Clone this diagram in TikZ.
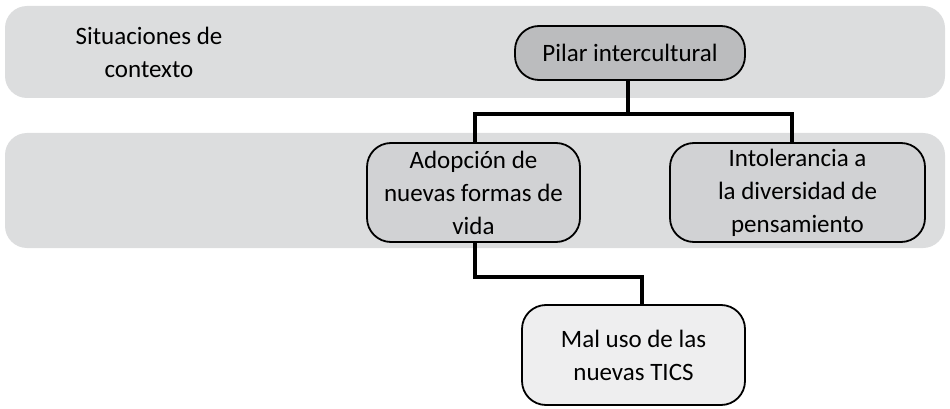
\documentclass[tikz,border=0pt]{standalone}
\usepackage{fontspec}
\setmainfont{Carlito}
\definecolor{bandgray}{HTML}{DCDDDE}
\definecolor{topfill}{HTML}{BBBCBE}
\definecolor{midfill}{HTML}{D1D2D4}
\definecolor{lowfill}{HTML}{EEEEEF}
\begin{document}
\begin{tikzpicture}[x=1pt,y=-1pt,
  band/.style={fill=bandgray,rounded corners=22pt},
  txt/.style={align=center,font=\fontsize{25}{33}\selectfont,inner sep=0pt},
  box/.style={txt,draw=black,line width=1.8pt,rounded corners=24pt},
  conn/.style={line width=4pt,line cap=rect}]
\useasboundingbox (0,0) rectangle (950,409);
\fill[band] (5,6) rectangle (945,98);
\fill[band] (5,133) rectangle (945,248);
\node[txt] (ctx) at (149,52) {Situaciones de\\contexto};
\node[box,fill=topfill,minimum width=230pt,minimum height=54pt] (pilar) at (630,53) {Pilar intercultural};
\node[box,fill=midfill,minimum width=213pt,minimum height=99pt] (adop) at (473.5,192.5) {Adopción de\\nuevas formas de\\vida};
\node[box,fill=midfill,minimum width=255pt,minimum height=99pt] (intol) at (797.5,192.5) {Intolerancia a\\la diversidad de\\pensamiento};
\node[box,fill=lowfill,minimum width=223pt,minimum height=100pt] (mal) at (633.5,355) {Mal uso de las\\nuevas TICS};
\draw[conn,line cap=butt] (628,0 |- pilar.south) -- (628,114) coordinate (j1);
\draw[conn,line join=miter] (475,0 |- adop.north) -- (475,114) -- (792,114) -- (792,0 |- intol.north);
\draw[conn,line join=miter,line cap=butt] (475,0 |- adop.south) -- (475,277) -- (642,277) -- (642,0 |- mal.north);
\end{tikzpicture}
\end{document}
